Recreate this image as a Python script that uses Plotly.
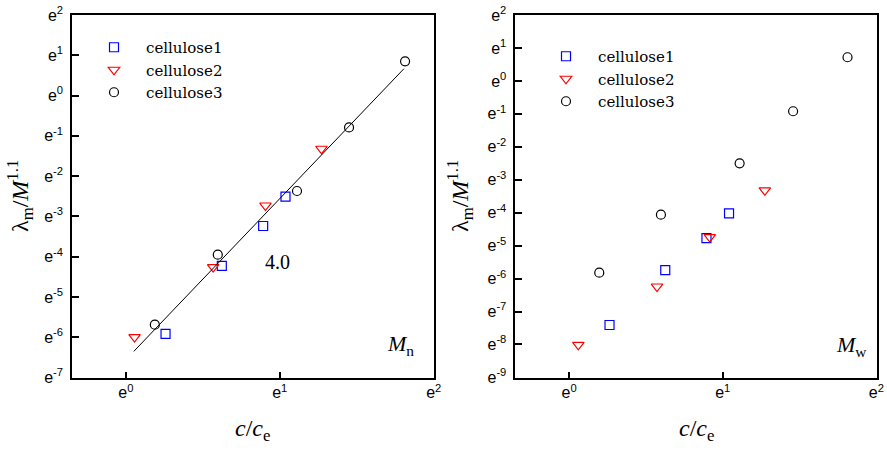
import numpy as np
import plotly.graph_objects as go

# ---- data (values of c/ce and lambda_m/M^1.1) ----
series_names = ["cellulose1", "cellulose2", "cellulose3"]

# Left panel (Mn)
mn_c1_x = [1.294, 1.865, 2.440, 2.821]
mn_c1_y = [0.00269, 0.01455, 0.0392, 0.0813]
mn_c2_x = [1.058, 1.763, 2.477, 3.564]
mn_c2_y = [0.00248, 0.01412, 0.0652, 0.267]
mn_c3_x = [1.207, 1.817, 3.040, 4.263, 6.135]
mn_c3_y = [0.00338, 0.01925, 0.0935, 0.454, 2.340]

# Right panel (Mw)
mw_c1_x = [1.301, 1.870, 2.445, 2.832]
mw_c1_y = [0.000606, 0.00321, 0.00848, 0.01795]
mw_c2_x = [1.062, 1.772, 2.499, 3.575]
mw_c2_y = [0.000332, 0.00195, 0.00874, 0.0362]
mw_c3_x = [1.217, 1.818, 3.034, 4.297, 6.123]
mw_c3_y = [0.00297, 0.01725, 0.0821, 0.3985, 2.054]

# Power-law fit on left panel
fit_slope = 4.0
fit_prefactor = 0.001417
fit_x = [1.053, 6.09]

x_tick_exps = [0, 1, 2]
left_y_tick_exps = list(range(-7, 3))
right_y_tick_exps = list(range(-9, 3))

# ---- styling ----
colors = ["#0000ff", "#ff0000", "#000000"]
symbols = ["square-open", "triangle-down-open", "circle-open"]
sizes = [9, 10, 9]
serif = "DejaVu Serif"
serif2 = "Liberation Serif"
sans = "Liberation Sans"

fig = go.Figure()

def add_series(xs, ys, i, xa, ya, legend):
    fig.add_trace(go.Scatter(
        x=xs, y=ys, mode="markers", name=series_names[i],
        marker=dict(symbol=symbols[i], size=sizes[i], color=colors[i],
                    line=dict(width=1.2, color=colors[i])),
        xaxis=xa, yaxis=ya, legend=legend, showlegend=True))

left = [(mn_c1_x, mn_c1_y), (mn_c2_x, mn_c2_y), (mn_c3_x, mn_c3_y)]
right = [(mw_c1_x, mw_c1_y), (mw_c2_x, mw_c2_y), (mw_c3_x, mw_c3_y)]
for i, (xs, ys) in enumerate(left):
    add_series(xs, ys, i, "x", "y", "legend")
for i, (xs, ys) in enumerate(right):
    add_series(xs, ys, i, "x2", "y2", "legend2")

fit_y = [fit_prefactor * xv ** fit_slope for xv in fit_x]
fig.add_trace(go.Scatter(x=fit_x, y=fit_y, mode="lines",
                         line=dict(color="black", width=1),
                         xaxis="x", yaxis="y", showlegend=False))

LN10 = np.log(10)

def tick_label(k):
    return f"e<sup>{k}</sup>"

def xaxis_cfg(domain):
    return dict(type="log", domain=domain, automargin=False,
                range=[-0.35 / LN10, 2.002 / LN10],
                tickvals=[np.exp(k) for k in x_tick_exps],
                ticktext=[tick_label(k) for k in x_tick_exps],
                ticks="inside", ticklen=6, tickwidth=1.5, tickcolor="black",
                showline=True, linecolor="black", linewidth=1.5, mirror=True,
                showgrid=False, zeroline=False,
                tickfont=dict(family=sans, size=16, color="black"))

def yaxis_cfg(domain, exps, anchor):
    return dict(type="log", domain=domain, anchor=anchor, automargin=False,
                range=[(exps[0] - 0.002) / LN10, (exps[-1] + 0.002) / LN10],
                tickvals=[np.exp(k) for k in exps],
                ticktext=[tick_label(k) for k in exps],
                ticks="inside", ticklen=7, tickwidth=1.5, tickcolor="black",
                showline=True, linecolor="black", linewidth=1.5, mirror=True,
                showgrid=False, zeroline=False, ticklabelstandoff=4,
                tickfont=dict(family=sans, size=16, color="black"))

ydom = [1 - 377.5 / 450, 1 - 15 / 450]
legend_common = dict(xanchor="left", yanchor="top", bgcolor="rgba(0,0,0,0)",
                     font=dict(family=serif, size=15, color="black"),
                     tracegroupgap=0, itemwidth=54)
fig.update_layout(
    width=887, height=450,
    margin=dict(l=0, r=0, t=0, b=0, autoexpand=False),
    paper_bgcolor="white", plot_bgcolor="white",
    xaxis=dict(**xaxis_cfg([72 / 887, 434 / 887]), anchor="y"),
    yaxis=yaxis_cfg(ydom, left_y_tick_exps, "x"),
    xaxis2=dict(**xaxis_cfg([515.3 / 887, 876.7 / 887]), anchor="y2"),
    yaxis2=yaxis_cfg(ydom, right_y_tick_exps, "x2"),
    legend=dict(x=82 / 887, y=1 - 31 / 450, **legend_common),
    legend2=dict(x=534 / 887, y=1 - 40 / 450, **legend_common),
    showlegend=True,
)

title_font = dict(family=serif2, size=24, color="black")
annots = [
    dict(text="4.0", x=277.7 / 887, y=1 - 261.7 / 450, font=dict(family=serif2, size=20, color="black")),
    dict(text="<i>M</i><sub>n</sub>", x=400 / 887, y=1 - 345 / 450, font=dict(family=serif2, size=22, color="black")),
    dict(text="<i>M</i><sub>w</sub>", x=851 / 887, y=1 - 346 / 450, font=dict(family=serif2, size=22, color="black")),
    dict(text="<i>c</i>/<i>c</i><sub>e</sub>", x=253 / 887, y=1 - 430 / 450, font=title_font),
    dict(text="<i>c</i>/<i>c</i><sub>e</sub>", x=696 / 887, y=1 - 430 / 450, font=title_font),
    dict(text="λ<sub>m</sub>/<i>M</i><sup>1.1</sup>", x=20 / 887, y=1 - 196 / 450, textangle=-90, font=title_font),
    dict(text="λ<sub>m</sub>/<i>M</i><sup>1.1</sup>", x=460 / 887, y=1 - 196 / 450, textangle=-90, font=title_font),
]
for a in annots:
    fig.add_annotation(xref="paper", yref="paper", showarrow=False,
                       xanchor="center", yanchor="middle", **a)

fig.write_html("out.html", config={"displayModeBar": False},
               post_script="document.body.style.margin='0';document.body.style.overflow='hidden';")
